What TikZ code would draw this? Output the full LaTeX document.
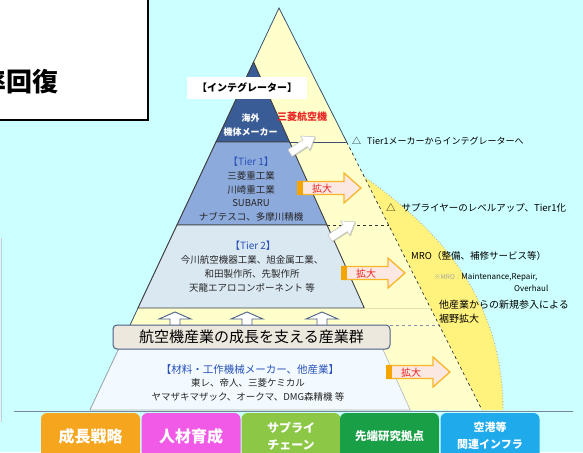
\documentclass[tikz,border=0pt]{standalone}
\usepackage{fontspec}
\setmainfont{Noto Sans CJK JP}
\usetikzlibrary{positioning,shadows,calc}

\definecolor{skybg}{RGB}{204,255,255}
\definecolor{paleyellow}{RGB}{255,255,204}
\definecolor{mroyellow}{RGB}{255,242,125}
\definecolor{integblue}{RGB}{58,92,150}
\definecolor{tieronefill}{RGB}{141,170,220}
\definecolor{tiertwofill}{RGB}{218,232,242}
\definecolor{basefill}{RGB}{242,250,255}
\definecolor{bandfill}{RGB}{236,232,222}
\definecolor{banddraw}{RGB}{75,95,135}
\definecolor{slate}{RGB}{60,80,115}
\definecolor{labelblue}{RGB}{40,80,185}
\definecolor{kakured}{RGB}{235,35,35}
\definecolor{kakuorange}{RGB}{250,180,40}
\definecolor{kakubar}{RGB}{245,165,0}
\definecolor{kakufill}{RGB}{252,232,226}
\definecolor{senryaku}{RGB}{245,165,30}
\definecolor{jinzai}{RGB}{240,90,230}
\definecolor{supply}{RGB}{140,200,70}
\definecolor{kenkyu}{RGB}{25,160,70}
\definecolor{infra}{RGB}{30,170,235}

% orange block arrow with the word on it: name, tail x, centre y
\newcommand{\kakudai}[3]{%
    \begin{scope}[shift={(#2,#3)}]
        \filldraw[draw=kakuorange, fill=kakufill, line width=1.3pt]
        (0,-6.5) -- (46,-6.5) -- (46,-15) -- (63,0) -- (46,15) -- (46,6.5) -- (0,6.5) -- cycle;
        \fill[kakubar] (-0.6,-7.1) rectangle (5,7.1);
        \node[kakutext] (#1) at (24,0.5) {拡大};
    \end{scope}}

% white arrow pointing up to the right: tail x, tail y
\newcommand{\liftarrow}[2]{%
    \begin{scope}[shift={(#1,#2)}, rotate=33]
        \filldraw[fill=white, draw=black!25, line width=0.5pt,
            drop shadow={shadow xshift=1pt, shadow yshift=-1pt, opacity=0.35}]
        (0,-4) -- (18,-4) -- (18,-8.5) -- (30,0) -- (18,8.5) -- (18,4) -- (0,4) -- cycle;
    \end{scope}}

\begin{document}
\begin{tikzpicture}[x=1pt, y=-1pt,
        firm/.style={align=center, inner sep=0pt, text=black!85, font=\fontsize{9.5}{13.8}\selectfont},
        tierlabel/.style={inner sep=0pt, text=labelblue, font=\fontsize{10}{12}\selectfont},
        note/.style={anchor=west, inner sep=0pt, font=\fontsize{9.5}{14}\selectfont},
        pillar/.style={rounded corners=6pt, minimum width=99pt, minimum height=46pt, inner sep=0pt,
            align=center, text=white, font=\bfseries\fontsize{#1}{17}\selectfont},
        kakutext/.style={text=kakured, inner sep=0pt, font=\fontsize{10}{12}\selectfont},
        edge/.style={black!75, line width=0.9pt},
        guide/.style={black!80, dashed, line width=0.7pt},
        upmark/.style={draw=banddraw, fill=white, line width=0.9pt, line join=miter}]

    \useasboundingbox (0,0) rectangle (583,452);
    \fill[skybg] (0,0) rectangle (583,452);

    % title box, cut by the page edge
    \draw[line width=2pt, fill=white] (-10,-10) rectangle (148,120);
    \node[anchor=east, inner sep=0pt, font=\bfseries\fontsize{26}{28}\selectfont] (recover) at (58.5,82) {率回復};
    \draw[gray!40, line width=0.6pt] (1,238) -- (1,422);

    % MRO bulge on the right
    \fill[mroyellow] (364.3,177) .. controls (440,230) and (503,300) .. (503,410) -- (482,410) -- cycle;
    \draw[gray!70, dotted, line width=0.8pt] (364.3,177) .. controls (440,230) and (503,300) .. (503,410);

    % big triangle
    \fill[paleyellow] (279,8) -- (90.1,410) -- (482,410) -- cycle;
    \draw[slate, line width=0.8pt] (90.1,410) -- (279,8) -- (346.7,142);
    \draw[guide] (346.7,142) -- (482,410);

    % the tiers
    \filldraw[edge, fill=integblue] (253.6,62) -- (216,142) -- (289.6,142) -- cycle;
    \filldraw[edge, fill=tieronefill] (216,142) -- (177,225) -- (327,225) -- (289.6,142) -- cycle;
    \filldraw[edge, fill=tiertwofill] (177,225) -- (138,308) -- (364.3,308) -- (327,225) -- cycle;

    \draw[slate, line width=0.9pt] (289.6,142) -- (346.7,142);
    \draw[guide] (327,225) -- (388.6,225);
    \draw[olive!25, line width=1pt] (364.3,308) -- (430.5,308);
    \draw[banddraw!70, dashed, line width=0.7pt] (390,325) -- (439,325);

    % supporting industries
    \filldraw[fill=basefill, draw=gray!60, line width=0.6pt] (123,340) -- (90.1,410) -- (410.2,410) -- (378.7,340) -- cycle;
    \foreach \ux in {175,247,322}
        \filldraw[upmark] (\ux-5,326) -- (\ux-5,319) -- (\ux-16,319) -- (\ux,312) -- (\ux+16,319) -- (\ux+5,319) -- (\ux+5,326);
    \node[rounded corners=4pt, fill=bandfill, draw=banddraw, line width=1pt, minimum width=277pt, minimum height=24pt,
        inner sep=0pt, font=\fontsize{15}{17}\selectfont] (band) at (251.5,337) {航空機産業の成長を支える産業群};

    \draw[slate!70, line width=1.2pt] (14,411.5) -- (573,411.5);

    % labels in the pyramid
    \node[fill=white, minimum width=120pt, minimum height=22pt, inner sep=0pt,
        font=\bfseries\fontsize{10}{12}\selectfont] (integ) at (247,88) {【インテグレーター】};
    \node[align=center, inner sep=0pt, text=white, font=\bfseries\fontsize{9}{14.5}\selectfont] (oversea) at (250.5,125) {海外\\機体メーカー};
    \node[inner sep=0pt, text=kakured, font=\bfseries\fontsize{10}{12}\selectfont] (mitac) at (302,117) {三菱航空機};

    \node[tierlabel] (tone) at (251,162) {【Tier 1】};
    \node[firm] (tonefirms) at (251,196.5) {三菱重工業\\川崎重工業\\SUBARU\\ナブテスコ、多摩川精機};
    \node[tierlabel] (ttwo) at (253,246) {【Tier 2】};
    \node[firm] (ttwofirms) at (252,274) {今川航空機器工業、旭金属工業、\\和田製作所、先製作所\\天龍エアロコンポーネント 等};
    \node[tierlabel, font=\fontsize{10.5}{12}\selectfont] (material) at (250,370) {【材料・工作機械メーカー、他産業】};
    \node[firm] (basefirms) at (248,390) {東レ、帝人、三菱ケミカル\\ヤマザキマザック、オークマ、DMG森精機 等};

    % arrows
    \liftarrow{290}{153}
    \liftarrow{330}{238}
    \kakudai{grow1}{298}{188}
    \kakudai{grow2}{342}{273}
    \kakudai{grow3}{387}{372}

    % notes on the right
    \node[note, font=\fontsize{9}{12}\selectfont] (integnote) at (352,141.5) {△\hspace{6pt}Tier1メーカーからインテグレーターへ};
    \node[note] (levelnote) at (386,208) {△\hspace{6pt}サプライヤーのレベルアップ、Tier1化};
    \node[note] (mro) at (411,256) {MRO（整備、補修サービス等）};
    \node[note, font=\fontsize{8}{10}\selectfont] (mrodef) at (434,277) {{\color{gray!70}\fontsize{6.5}{8}\selectfont ※MRO：}Maintenance,Repair,};
    \node[note, font=\fontsize{8}{10}\selectfont] (overhaul) at (514,288.5) {Overhaul};
    \node[note, align=left, font=\fontsize{10}{14}\selectfont] (entry) at (439,312) {他産業からの新規参入による\\裾野拡大};

    % policy pillars
    \node[pillar=16, fill=senryaku] (strategy) at (90.5,436) {成長戦略};
    \node[pillar=16, fill=jinzai] (people) at (191,436) {人材育成};
    \node[pillar=12, fill=supply] (chain) at (291,436) {サプライ\\チェーン};
    \node[pillar=11.5, fill=kenkyu] (research) at (389.5,436) {先端研究拠点};
    \node[pillar=11, fill=infra] (airport) at (490,436) {空港等\\関連インフラ};
\end{tikzpicture}
\end{document}
